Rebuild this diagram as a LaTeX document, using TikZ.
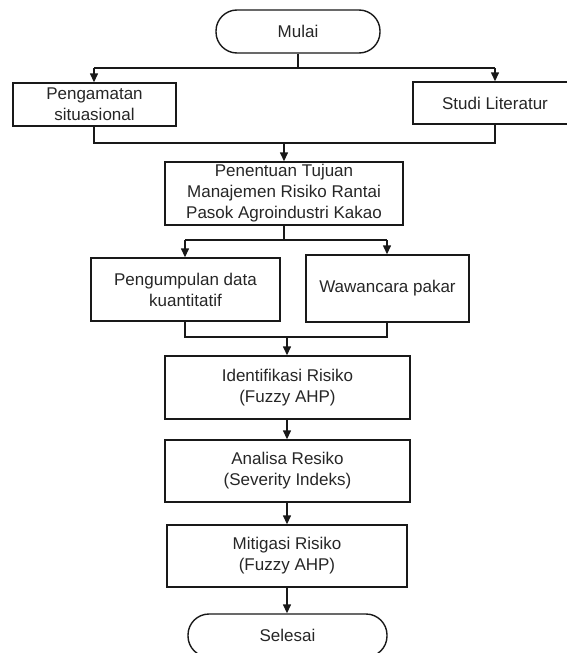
\documentclass[tikz,border=0pt]{standalone}
\usepackage{fontspec}
\setmainfont{Liberation Sans}
\usetikzlibrary{arrows.meta}
\begin{document}
\begin{tikzpicture}[x=1pt,y=-1pt,
  every node/.style={font=\fontsize{17}{21}\selectfont, text=black!85, align=center, inner sep=0pt},
  box/.style={draw=black!90, line width=1.4pt, rectangle},
  term/.style={draw=black!90, line width=1.4pt, rounded corners=21pt, minimum height=43pt},
  conn/.style={draw=black!90, line width=1.4pt},
  arr/.style={conn, -{Triangle[width=8pt,length=9pt]}}]
\useasboundingbox (0,0) rectangle (567,653);
\clip (0,0) rectangle (567,653);

\node[term, minimum width=164pt] (mulai) at (298,31.5) {Mulai};
\node[box, minimum width=163pt, minimum height=43pt] (peng) at (94.5,104.5) {Pengamatan\\situasional};
\node[box, minimum width=164pt, minimum height=42pt] (studi) at (495,103) {Studi Literatur};
\node[box, minimum width=238pt, minimum height=63pt] (tuj) at (284,193.5) {Penentuan Tujuan\\Manajemen Risiko Rantai\\Pasok Agroindustri Kakao};
\node[box, minimum width=189pt, minimum height=63pt] (kuan) at (185.5,289.5) {Pengumpulan data\\kuantitatif};
\node[box, minimum width=163pt, minimum height=67pt] (waw) at (387.5,288.5) {Wawancara pakar};
\node[box, minimum width=245pt, minimum height=63pt] (iden) at (287.5,387.5) {Identifikasi Risiko\\(Fuzzy AHP)};
\node[box, minimum width=245pt, minimum height=62pt] (anal) at (287.5,471) {Analisa Resiko\\(Severity Indeks)};
\node[box, minimum width=240pt, minimum height=62pt] (miti) at (287,556) {Mitigasi Risiko\\(Fuzzy AHP)};
\node[term, minimum width=199pt] (sel) at (287.5,635.5) {Selesai};

% Mulai split
\coordinate (s1) at (mulai.south |- 0,68);
\coordinate (s1l) at (94,68);
\coordinate (s1r) at (495,68);
\draw[conn] (mulai.south) -- (s1);
\draw[conn] (s1l) -- (s1r);
\draw[arr] (s1l) -- (s1l |- peng.north);
\draw[arr] (s1r) -- (s1r |- studi.north);

% merge 1
\coordinate (m1l) at (94,143);
\coordinate (m1r) at (495,143);
\coordinate (m1c) at (284,143);
\draw[conn] (m1l |- peng.south) -- (m1l) -- (m1r) -- (m1r |- studi.south);
\draw[arr] (m1c) -- (tuj.north);

% split 2
\coordinate (s2) at (284,240);
\coordinate (s2l) at (185,240);
\coordinate (s2r) at (387,240);
\draw[conn] (tuj.south) -- (s2);
\draw[conn] (s2l) -- (s2r);
\draw[arr] (s2l) -- (s2l |- kuan.north);
\draw[arr] (s2r) -- (s2r |- waw.north);

% merge 2
\coordinate (m2l) at (185,337);
\coordinate (m2r) at (387,337);
\coordinate (m2c) at (287,337);
\draw[conn] (m2l |- kuan.south) -- (m2l) -- (m2r) -- (m2r |- waw.south);
\draw[arr] (m2c) -- (m2c |- iden.north);

\draw[arr] (iden.south -| m2c) -- (anal.north -| m2c);
\draw[arr] (anal.south -| m2c) -- (miti.north -| m2c);
\draw[arr] (miti.south -| m2c) -- (sel.north -| m2c);
\end{tikzpicture}
\end{document}
